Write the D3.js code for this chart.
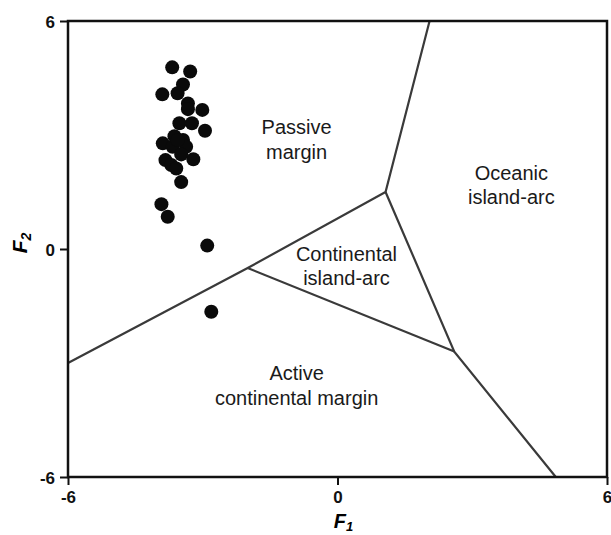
<!DOCTYPE html>
<html>
<head>
<meta charset="utf-8">
<script src="https://cdn.jsdelivr.net/npm/d3@7"></script>
<style>
  body { margin: 0; background: #fff; }
  text { font-family: "Liberation Sans", Arial, sans-serif; }
</style>
</head>
<body>
<svg id="chart" width="611" height="535"></svg>
<script>
// sample points (F1, F2)
const f1 = [-3.68, -3.28, -3.44, -3.90, -3.56, -3.33, -3.01, -3.33, -3.52, -3.24,
            -2.95, -3.63, -3.89, -3.44, -3.67, -3.37, -3.48, -3.21, -3.83, -3.70,
            -3.59, -3.48, -3.92, -3.78, -2.90, -2.81, -3.56];
const f2 = [4.78, 4.67, 4.33, 4.07, 4.10, 3.83, 3.66, 3.68, 3.31, 3.31,
            3.11, 2.97, 2.78, 2.87, 2.69, 2.69, 2.49, 2.36, 2.34, 2.21,
            2.12, 1.76, 1.18, 0.85, 0.09, -1.65, 2.87];

// field boundaries, as lists of [F1, F2] vertices
const boundaries = [
  [[-6, -3.0], [-2.0, -0.5], [1.07, 1.5], [2.05, 6]],
  [[1.07, 1.5], [2.6, -2.7], [4.86, -6]],
  [[-2.0, -0.5], [2.6, -2.7]]
];

// field names, one entry per text line (anchor at middle, baseline)
const labelText = ["Passive", "margin", "Oceanic", "island-arc",
                   "Continental", "island-arc", "Active", "continental margin"];
const labelF1 = [-0.91, -0.91, 3.87, 3.87, 0.2, 0.2, -0.91, -0.91];
const labelF2 = [3.03, 2.36, 1.82, 1.18, -0.32, -0.95, -3.45, -4.1];

const xTicks = [-6, 0, 6];
const yTicks = [-6, 0, 6];

const svg = d3.select("#chart");
const plotLeft = 68, plotRight = 607, plotTop = 21, plotBottom = 477;

const x = d3.scaleLinear().domain([-6, 6]).range([plotLeft, plotRight]);
const y = d3.scaleLinear().domain([-6, 6]).range([plotBottom, plotTop]);

// boundaries
const line = d3.line().x(d => x(d[0])).y(d => y(d[1]));
svg.append("g")
   .selectAll("path")
   .data(boundaries)
   .enter()
   .append("path")
   .attr("d", line)
   .attr("fill", "none")
   .attr("stroke", "#3a3a3a")
   .attr("stroke-width", 2.2);

// frame
svg.append("rect")
   .attr("x", plotLeft).attr("y", plotTop)
   .attr("width", plotRight - plotLeft).attr("height", plotBottom - plotTop)
   .attr("fill", "none")
   .attr("stroke", "#111")
   .attr("stroke-width", 2.5);

// axes (plain hyphen for the minus sign, like the original)
const xAxis = svg.append("g")
   .attr("transform", `translate(0,${plotBottom})`)
   .call(d3.axisBottom(x).tickValues(xTicks).tickSize(8).tickPadding(6).tickFormat(d => String(d)));
const yAxis = svg.append("g")
   .attr("transform", `translate(${plotLeft},0)`)
   .call(d3.axisLeft(y).tickValues(yTicks).tickSize(8).tickPadding(5).tickFormat(d => String(d)));

[xAxis, yAxis].forEach(function(a){
    a.select(".domain").remove();
    a.selectAll(".tick line").attr("stroke", "#111").attr("stroke-width", 2);
    a.selectAll(".tick text")
     .attr("fill", "#111")
     .style("font-family", "'Liberation Sans', Arial, sans-serif")
     .style("font-size", "17px")
     .style("font-weight", "bold");
});
yAxis.selectAll(".tick text").attr("dy", "0.36em");

// axis titles
const xt = svg.append("text")
   .attr("x", x(0) + 6).attr("y", 528)
   .attr("text-anchor", "middle")
   .style("font-size", "20px").style("font-weight", "bold").style("font-style", "italic");
xt.append("tspan").text("F");
xt.append("tspan").text("1").attr("dy", 3).style("font-size", "13px");

const yt = svg.append("text")
   .attr("transform", "translate(27,243) rotate(-90)")
   .attr("text-anchor", "middle")
   .style("font-size", "21px").style("font-weight", "bold").style("font-style", "italic");
yt.append("tspan").text("F");
yt.append("tspan").text("2").attr("dy", 4).style("font-size", "14px");

// field labels
svg.append("g")
   .selectAll("text")
   .data(labelText)
   .enter()
   .append("text")
   .attr("x", (d, i) => x(labelF1[i]))
   .attr("y", (d, i) => y(labelF2[i]))
   .attr("text-anchor", "middle")
   .attr("fill", "#1a1a1a")
   .style("font-size", "20px")
   .text(d => d);

// data points
svg.append("g")
   .selectAll("circle")
   .data(d3.range(f1.length))
   .enter()
   .append("circle")
   .attr("cx", i => x(f1[i]))
   .attr("cy", i => y(f2[i]))
   .attr("r", 7)
   .attr("fill", "#0a0a0a");
</script>
</body>
</html>
